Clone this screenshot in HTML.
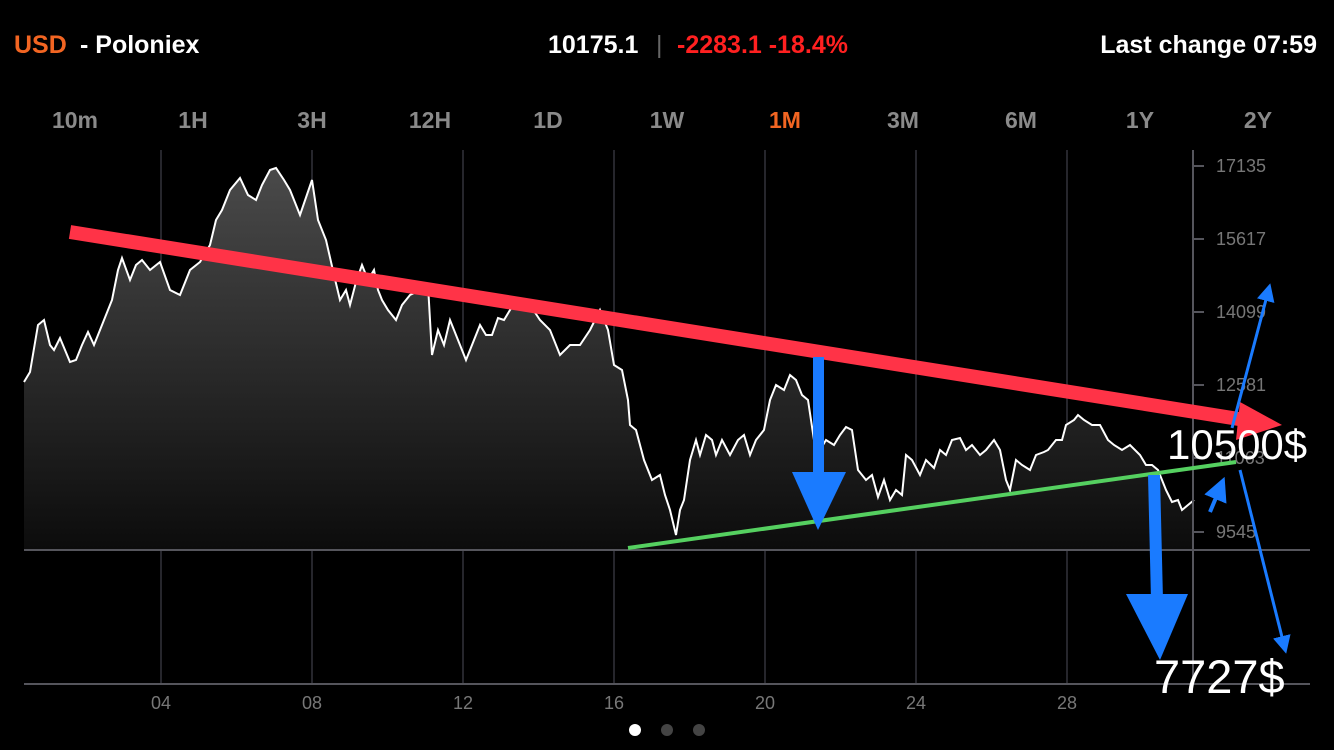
<!DOCTYPE html>
<html><head><meta charset="utf-8"><style>
body{margin:0;background:#000;width:1334px;height:750px;overflow:hidden;font-family:"Liberation Sans",sans-serif}
svg{position:absolute;left:0;top:0}
</style></head><body>
<svg width="1334" height="750" viewBox="0 0 1334 750">
<defs><linearGradient id="g" x1="0" y1="0" x2="0" y2="1"><stop offset="0" stop-color="#4a4a4a"/><stop offset="1" stop-color="#0c0c0c"/></linearGradient>
<marker id="ab" markerWidth="6" markerHeight="6" refX="3" refY="3" orient="auto" markerUnits="strokeWidth"><path d="M0,0L6,3L0,6z" fill="#1a7bff"/></marker></defs>
<text x="14" y="53" font-size="25" font-weight="bold" fill="#f26522">USD</text>
<text x="80" y="53" font-size="25" font-weight="bold" fill="#fff">- Poloniex</text>
<text x="548" y="53" font-size="25" font-weight="bold" fill="#fff">10175.1</text>
<text x="656" y="53" font-size="25" fill="#666">|</text>
<text x="677" y="53" font-size="25" font-weight="bold" fill="#ff2020">-2283.1 -18.4%</text>
<text x="1317" y="53" font-size="25" font-weight="bold" fill="#fff" text-anchor="end">Last change 07:59</text>
<g font-size="23" font-weight="bold" fill="#8a8a8a" text-anchor="middle">
<text x="75" y="128">10m</text><text x="193" y="128">1H</text><text x="312" y="128">3H</text><text x="430" y="128">12H</text><text x="548" y="128">1D</text><text x="667" y="128">1W</text><text x="785" y="128" fill="#f26522">1M</text><text x="903" y="128">3M</text><text x="1021" y="128">6M</text><text x="1140" y="128">1Y</text><text x="1258" y="128">2Y</text></g>
<g stroke="#26262c" stroke-width="2"><line x1="161" y1="150" x2="161" y2="684"/><line x1="312" y1="150" x2="312" y2="684"/><line x1="463" y1="150" x2="463" y2="684"/><line x1="614" y1="150" x2="614" y2="684"/><line x1="765" y1="150" x2="765" y2="684"/><line x1="916" y1="150" x2="916" y2="684"/><line x1="1067" y1="150" x2="1067" y2="684"/></g>
<polygon fill="url(#g)" points="24,550 24,382 30,372 38,325 44,320 50,345 54,350 60,338 70,362 76,360 82,345 88,332 94,345 100,330 112,300 118,270 122,258 130,280 136,265 142,260 150,270 160,262 170,290 180,295 190,270 200,262 210,245 216,220 222,210 230,190 240,178 248,195 256,200 262,185 270,170 276,168 284,180 290,190 296,205 300,215 312,180 318,220 326,240 334,275 340,300 346,290 350,305 356,282 362,265 368,280 374,270 378,290 382,300 388,310 396,320 402,305 410,295 420,290 428,285 432,355 438,330 444,345 450,320 460,345 466,360 474,340 480,325 486,335 492,335 498,318 504,320 510,310 516,300 524,305 530,305 540,320 550,330 560,355 570,345 580,345 590,330 600,310 608,330 614,365 622,370 628,400 630,425 636,430 644,460 652,480 660,475 665,495 670,510 676,535 680,510 684,500 690,460 696,440 700,455 706,435 712,440 716,455 722,440 730,455 738,440 744,435 750,455 756,440 764,430 770,400 776,385 784,390 790,375 796,380 802,395 808,400 814,440 820,450 826,440 834,445 840,435 846,427 852,430 858,470 866,480 872,475 878,497 884,480 890,500 896,490 902,495 906,455 912,460 920,475 926,460 934,468 940,450 946,455 952,440 960,438 966,450 972,445 980,455 986,450 994,440 1000,450 1006,480 1010,490 1016,460 1022,465 1030,470 1036,455 1044,452 1048,450 1056,440 1062,440 1066,425 1074,420 1078,415 1084,420 1092,425 1100,425 1108,440 1114,445 1122,450 1130,445 1140,455 1146,465 1152,465 1158,470 1166,490 1172,502 1178,500 1182,510 1188,505 1194,500 1194,550"/>
<polyline fill="none" stroke="#fff" stroke-width="2" points="24,382 30,372 38,325 44,320 50,345 54,350 60,338 70,362 76,360 82,345 88,332 94,345 100,330 112,300 118,270 122,258 130,280 136,265 142,260 150,270 160,262 170,290 180,295 190,270 200,262 210,245 216,220 222,210 230,190 240,178 248,195 256,200 262,185 270,170 276,168 284,180 290,190 296,205 300,215 312,180 318,220 326,240 334,275 340,300 346,290 350,305 356,282 362,265 368,280 374,270 378,290 382,300 388,310 396,320 402,305 410,295 420,290 428,285 432,355 438,330 444,345 450,320 460,345 466,360 474,340 480,325 486,335 492,335 498,318 504,320 510,310 516,300 524,305 530,305 540,320 550,330 560,355 570,345 580,345 590,330 600,310 608,330 614,365 622,370 628,400 630,425 636,430 644,460 652,480 660,475 665,495 670,510 676,535 680,510 684,500 690,460 696,440 700,455 706,435 712,440 716,455 722,440 730,455 738,440 744,435 750,455 756,440 764,430 770,400 776,385 784,390 790,375 796,380 802,395 808,400 814,440 820,450 826,440 834,445 840,435 846,427 852,430 858,470 866,480 872,475 878,497 884,480 890,500 896,490 902,495 906,455 912,460 920,475 926,460 934,468 940,450 946,455 952,440 960,438 966,450 972,445 980,455 986,450 994,440 1000,450 1006,480 1010,490 1016,460 1022,465 1030,470 1036,455 1044,452 1048,450 1056,440 1062,440 1066,425 1074,420 1078,415 1084,420 1092,425 1100,425 1108,440 1114,445 1122,450 1130,445 1140,455 1146,465 1152,465 1158,470 1166,490 1172,502 1178,500 1182,510 1188,505 1194,500"/>
<g stroke="#55555c" stroke-width="2"><line x1="24" y1="550" x2="1310" y2="550"/><line x1="24" y1="684" x2="1310" y2="684"/><line x1="1193" y1="150" x2="1193" y2="684"/>
<line x1="1193" y1="166" x2="1204" y2="166"/><line x1="1193" y1="239" x2="1204" y2="239"/><line x1="1193" y1="312" x2="1204" y2="312"/><line x1="1193" y1="385" x2="1204" y2="385"/><line x1="1193" y1="458" x2="1204" y2="458"/><line x1="1193" y1="532" x2="1204" y2="532"/></g>
<g font-size="18" fill="#777"><text x="1216" y="172">17135</text><text x="1216" y="245">15617</text><text x="1216" y="318">14099</text><text x="1216" y="391">12581</text><text x="1216" y="464">11063</text><text x="1216" y="538">9545</text></g>
<g font-size="18" fill="#777" text-anchor="middle"><text x="161" y="709">04</text><text x="312" y="709">08</text><text x="463" y="709">12</text><text x="614" y="709">16</text><text x="765" y="709">20</text><text x="916" y="709">24</text><text x="1067" y="709">28</text></g>
<circle cx="635" cy="730" r="6" fill="#fff"/><circle cx="667" cy="730" r="6" fill="#444"/><circle cx="699" cy="730" r="6" fill="#444"/>
<line x1="70" y1="232" x2="1245" y2="420" stroke="#ff3347" stroke-width="14"/>
<polygon points="1240,402 1282,425 1236,440" fill="#ff3347"/>
<line x1="628" y1="548" x2="1236" y2="462" stroke="#55d060" stroke-width="4"/>
<rect x="813" y="357" width="11" height="120" fill="#1a7bff"/><polygon points="792,472 846,472 818,530" fill="#1a7bff"/>
<polygon points="1148,475 1160,475 1163,600 1151,600" fill="#1a7bff"/><polygon points="1126,594 1188,594 1160,660" fill="#1a7bff"/>
<line x1="1210" y1="512" x2="1220" y2="488" stroke="#1a7bff" stroke-width="4" marker-end="url(#ab)"/>
<line x1="1232" y1="428" x2="1268" y2="292" stroke="#1a7bff" stroke-width="3" marker-end="url(#ab)"/>
<line x1="1240" y1="470" x2="1284" y2="645" stroke="#1a7bff" stroke-width="3" marker-end="url(#ab)"/>
<text x="1167" y="459" font-size="42" fill="#fff">10500$</text>
<text x="1154" y="693" font-size="47" fill="#fff">7727$</text>
</svg>
</body></html>
